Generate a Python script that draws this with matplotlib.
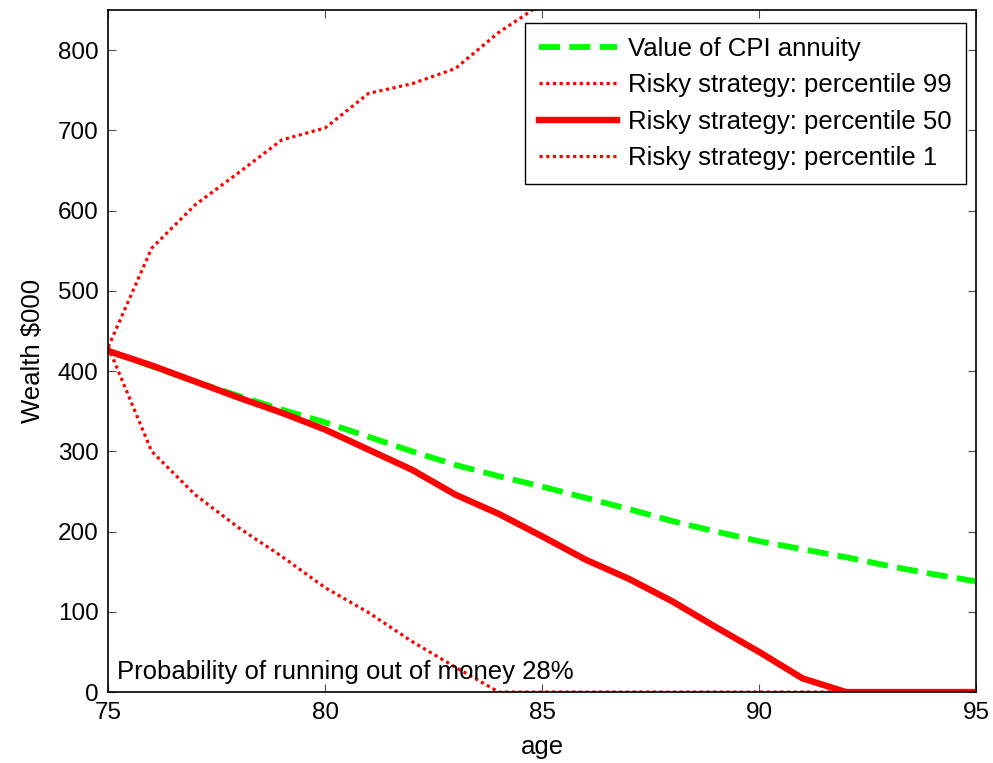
import matplotlib
matplotlib.use("Agg")
import matplotlib.pyplot as plt
import numpy as np

plt.rcParams["font.family"] = ["Liberation Sans", "DejaVu Sans"]

ages = np.arange(75, 96)

# real annuity value ($000)
cpi_annuity = [425, 406, 387, 369, 352, 336, 318, 300, 283, 269, 256,
               242, 228, 213, 200, 188, 178, 168, 157, 147, 138]

# simulated wealth percentiles for the risky strategy ($000)
risky_p99 = [430, 553, 607, 647, 688, 703, 746, 758, 777, 822, 858,
             890, 925, 955, 990, 1020, 1050, 1080, 1110, 1140, 1170]
risky_p50 = [425, 407, 387, 367, 348, 327, 302, 277, 246, 222, 194,
             165, 141, 113, 81, 50, 17, 0, 0, 0, 0]
risky_p1 = [430, 300, 246, 205, 169, 130, 99, 63, 31, 0, 0,
            0, 0, 0, 0, 0, 0, 0, 0, 0, 0]

prob_ruin = 28

FONT_SIZE = 18.5
GREEN = (0.0, 1.0, 0.0)
RED = (1.0, 0.0, 0.0)
DOT = (0, (1, 1.1))


def plot():
    fig = plt.figure(figsize=(9.93, 7.63), dpi=100, facecolor="white")
    ax = fig.add_axes([0.109, 0.093, 0.874, 0.894])

    ax.plot(ages, cpi_annuity, color=GREEN, lw=4.2, ls=(0, (3.6, 1.6)),
            label="Value of CPI annuity")
    ax.plot(ages, risky_p99, color=RED, lw=2.3, ls=DOT,
            label="Risky strategy: percentile 99")
    ax.plot(ages, risky_p50, color=RED, lw=4.6, ls="-",
            label="Risky strategy: percentile 50", solid_joinstyle="miter")
    ax.plot(ages, risky_p1, color=RED, lw=2.3, ls=DOT,
            label="Risky strategy: percentile 1")

    ax.set_xlim(75, 95)
    ax.set_ylim(0, 850)
    ax.set_xticks([75, 80, 85, 90, 95])
    ax.set_yticks(range(0, 900, 100))

    ax.tick_params(direction="in", length=6, width=0.8, color=(0.3, 0.3, 0.3),
                   top=True, right=True, labelsize=17.5, pad=7)
    for sp in ax.spines.values():
        sp.set_linewidth(1.2)
        sp.set_color("black")

    ax.set_xlabel("age", fontsize=FONT_SIZE, labelpad=8)
    ax.set_ylabel("Wealth $000", fontsize=FONT_SIZE, labelpad=9)

    ax.text(75.2, 16, "Probability of running out of money %d%%" % prob_ruin,
            fontsize=FONT_SIZE, va="baseline", ha="left")

    leg = ax.legend(loc="upper right", bbox_to_anchor=(0.9885, 0.981),
                    borderaxespad=0, fontsize=FONT_SIZE, frameon=True,
                    fancybox=False, edgecolor="black", framealpha=1,
                    handlelength=3.05, handletextpad=0.43, labelspacing=0.48,
                    borderpad=0.55)
    leg.get_frame().set_linewidth(1.0)

    fig.savefig("out.png", dpi=100, facecolor="white")


if __name__ == "__main__":
    plot()
